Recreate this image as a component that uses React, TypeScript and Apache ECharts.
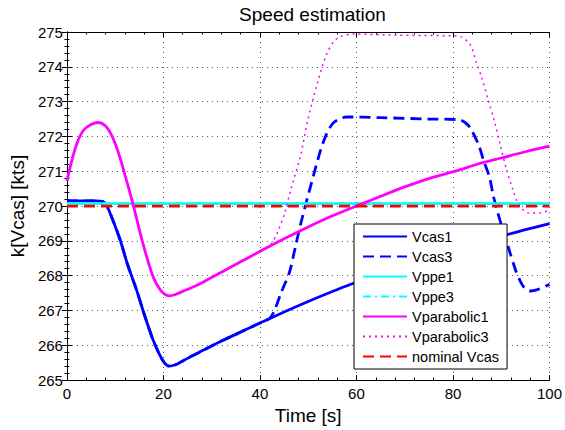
import React, { useEffect, useRef } from "react";
import * as echarts from "echarts";

const xTicks = [0, 20, 40, 60, 80, 100];
const yRange = [265, 275];

const vcas1T = [0, 6, 7.5, 8.3, 9.5, 11, 12.5, 14.4, 16, 17.8, 19.3, 20.3, 21.2, 22.5, 24, 26, 28, 32, 36, 40, 45.7, 50, 55, 58.7, 65, 70, 75, 80, 85, 91, 95, 100];
const vcas1V = [270.15, 270.15, 270.12, 270.0, 269.6, 269.04, 268.35, 267.6, 266.9, 266.17, 265.7, 265.48, 265.4, 265.44, 265.55, 265.7, 265.84, 266.12, 266.38, 266.64, 267.0, 267.26, 267.545, 267.745, 268.06, 268.295, 268.52, 268.735, 268.94, 269.17, 269.32, 269.495];

const vcas3T = [0, 6, 7.5, 8.3, 9.5, 11, 12.5, 14.4, 16, 17.8, 19.3, 20.3, 21.2, 22.5, 24, 26, 28, 32, 36, 40, 42, 43, 44.5, 46.1, 47.3, 48.5, 50.5, 52.6, 53.9, 55.2, 56.5, 58, 65, 75, 81.2, 82.5, 83.6, 85.3, 86.3, 87.6, 88.3, 89.4, 91.4, 93, 94.1, 95, 96.1, 97.5, 100];
const vcas3V = [270.15, 270.15, 270.12, 270.0, 269.6, 269.04, 268.35, 267.6, 266.9, 266.17, 265.7, 265.48, 265.4, 265.44, 265.55, 265.7, 265.84, 266.12, 266.38, 266.64, 266.77, 267.0, 267.55, 268.09, 268.8, 269.52, 270.57, 271.62, 272.1, 272.39, 272.5, 272.56, 272.54, 272.5, 272.48, 272.4, 272.24, 271.76, 271.33, 270.81, 270.33, 269.75, 268.85, 268.15, 267.8, 267.62, 267.56, 267.6, 267.75];

const vppeT = [0, 100];
const vppe1V = [270.07, 270.07];
const vppe3V = [270.07, 270.07];

const vpar1T = [0, 1, 2.1, 3.4, 5, 6.5, 8, 9.2, 10.3, 11.3, 12.3, 13.7, 15.7, 17.8, 19.3, 20.3, 21.2, 22.5, 24, 26, 28, 32, 36, 40.3, 45, 50, 55, 60.7, 65, 70, 75, 81.2, 85, 90, 95, 100];
const vpar1V = [270.72, 271.3, 271.81, 272.17, 272.34, 272.4, 272.3, 272.05, 271.68, 271.25, 270.76, 270.05, 268.95, 267.99, 267.6, 267.46, 267.42, 267.46, 267.55, 267.67, 267.8, 268.1, 268.4, 268.72, 269.06, 269.4, 269.72, 270.04, 270.28, 270.55, 270.79, 271.03, 271.2, 271.38, 271.56, 271.72];

const vpar3T = [0, 1, 2.1, 3.4, 5, 6.5, 8, 9.2, 10.3, 11.3, 12.3, 13.7, 15.7, 17.8, 19.3, 20.3, 21.2, 22.5, 24, 26, 28, 32, 36, 40.3, 41.5, 42.5, 43.5, 45, 46.4, 48.5, 49.8, 51.9, 53.9, 56, 59.4, 67.5, 79.8, 81.5, 83.6, 84.9, 85.9, 87.3, 88.7, 89.7, 91, 92.4, 93.8, 95.8, 98.2, 100];
const vpar3V = [270.72, 271.3, 271.81, 272.17, 272.34, 272.4, 272.3, 272.05, 271.68, 271.25, 270.76, 270.05, 268.95, 267.99, 267.6, 267.46, 267.42, 267.46, 267.55, 267.67, 267.8, 268.1, 268.4, 268.72, 268.8, 268.95, 269.2, 269.75, 270.47, 271.5, 272.4, 273.53, 274.39, 274.82, 274.94, 274.91, 274.89, 274.87, 274.63, 274.1, 273.72, 273.05, 272.38, 271.81, 271.1, 270.47, 270.0, 269.8, 269.8, 269.9];

const nominalT = [0, 100];
const nominalV = [270.0, 270.0];

const FONT = "Liberation Sans";

const pairs = (t: number[], v: number[]) => t.map((x, i) => [x, v[i]]);

export default function App() {
  const ref = useRef<HTMLDivElement>(null);
  useEffect(() => {
    if (!ref.current) return;
    const chart = echarts.init(ref.current, undefined, { renderer: "svg" });
    const lineSeries = (name: string, t: number[], v: number[], color: string, width: number, type: any, smooth = true) => ({
      name,
      type: "line",
      xAxisIndex: 0,
      yAxisIndex: 0,
      data: pairs(t, v),
      symbol: "none",
      smooth: smooth ? 0.3 : false,
      lineStyle: { color, width, type, cap: "butt" },
      itemStyle: { color },
      emphasis: { disabled: true },
    });
    const axisCommon = {
      axisLine: { show: true, lineStyle: { color: "#000", width: 1 } },
      axisTick: { show: true, inside: true, length: 5, lineStyle: { color: "#000" } },
      minorTick: { show: true, splitNumber: 5, length: 2.5, lineStyle: { color: "#000" } },
    };
    chart.setOption({
      animation: false,
      backgroundColor: "#fff",
      textStyle: { fontFamily: FONT },
      title: {
        text: "Speed estimation",
        left: 307.5,
        textAlign: "center",
        top: 0,
        textStyle: { fontFamily: FONT, fontSize: 19, fontWeight: "normal", color: "#000" },
      },
      grid: { left: 63, right: 13, top: 32, bottom: 49, containLabel: false, show: false },
      legend: {
        orient: "vertical",
        left: 354,
        top: 224,
        padding: [5, 8, 5, 8],
        itemWidth: 44,
        itemHeight: 14,
        itemGap: 5,
        borderColor: "#000",
        borderWidth: 1,
        backgroundColor: "#fff",
        itemStyle: { opacity: 0 },
        textStyle: { fontFamily: FONT, fontSize: 14.5, color: "#000" },
        data: ["Vcas1", "Vcas3", "Vppe1", "Vppe3", "Vparabolic1", "Vparabolic3", "nominal Vcas"],
      },
      xAxis: [
        {
          type: "value",
          min: xTicks[0],
          max: xTicks[xTicks.length - 1],
          interval: 20,
          position: "bottom",
          name: "Time [s]",
          nameLocation: "middle",
          nameGap: 20,
          nameTextStyle: { fontFamily: FONT, fontSize: 19, color: "#000" },
          axisLabel: { fontFamily: FONT, fontSize: 15, color: "#000", margin: 6 },
          splitLine: { show: true, lineStyle: { color: "#555", width: 1, type: [1, 4] } },
          ...axisCommon,
        },
        {
          type: "value",
          min: xTicks[0],
          max: xTicks[xTicks.length - 1],
          interval: 20,
          position: "top",
          axisLabel: { show: false },
          splitLine: { show: false },
          ...axisCommon,
        },
      ],
      yAxis: [
        {
          type: "value",
          min: yRange[0],
          max: yRange[1],
          interval: 1,
          position: "left",
          name: "k[Vcas] [kts]",
          nameLocation: "middle",
          nameGap: 36,
          nameTextStyle: { fontFamily: FONT, fontSize: 19, color: "#000" },
          axisLabel: { fontFamily: FONT, fontSize: 15, color: "#000", margin: 4 },
          splitLine: { show: true, lineStyle: { color: "#555", width: 1, type: [1, 4] } },
          ...axisCommon,
        },
        {
          type: "value",
          min: yRange[0],
          max: yRange[1],
          interval: 1,
          position: "right",
          axisLabel: { show: false },
          splitLine: { show: false },
          ...axisCommon,
        },
      ],
      series: [
        lineSeries("Vcas1", vcas1T, vcas1V, "#0000ff", 2.8, "solid"),
        lineSeries("Vcas3", vcas3T, vcas3V, "#0000ff", 2.8, [11, 6]),
        lineSeries("Vppe1", vppeT, vppe1V, "#00ffff", 2.8, "solid", false),
        lineSeries("Vppe3", vppeT, vppe3V, "#00ffff", 2.8, [8, 4, 2, 4], false),
        lineSeries("Vparabolic1", vpar1T, vpar1V, "#ff00ff", 2.8, "solid"),
        lineSeries("Vparabolic3", vpar3T, vpar3V, "#ff00ff", 1.5, [2, 4]),
        lineSeries("nominal Vcas", nominalT, nominalV, "#ff0000", 2.8, [11, 6], false),
      ],
    });
    return () => chart.dispose();
  }, []);
  return (
    <div
      ref={ref}
      style={{ position: "fixed", left: 0, top: 0, width: 565, height: 430, background: "#fff" }}
    />
  );
}
